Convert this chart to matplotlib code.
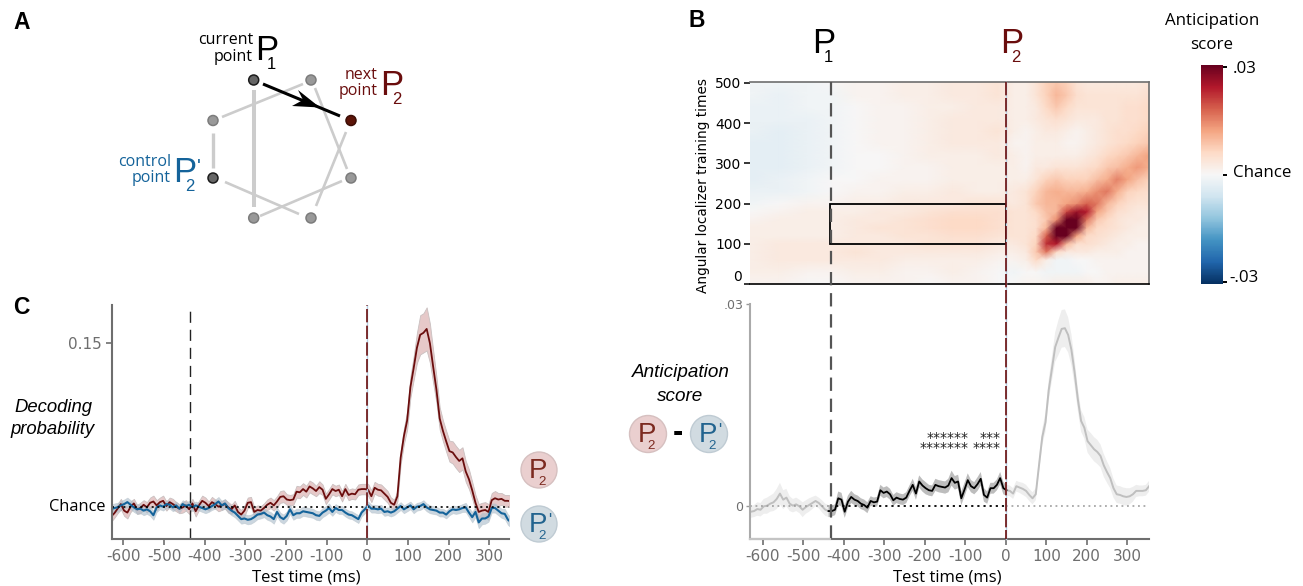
import numpy as np
import matplotlib
matplotlib.use('Agg')
import matplotlib.pyplot as plt
from matplotlib.patches import Circle, Rectangle, Polygon

W, H = 1303, 586

# decoding probability, in units of 1e-3 above chance, one value every 8 ms from -630 ms
next_point = [
    -1.5, -1.0, -0.3, 0.4, -0.6, -0.9, 0.0, 0.5, -0.4, -0.2,
    0.3, -0.1, 0.6, 0.8, 0.2, 0.7, 0.9, 0.1, 0.7, 0.4,
    0.0, -0.3, -0.1, 0.2, -0.4, 0.5, -0.7, 0.2, 0.9, 0.6,
    0.1, 0.7, 0.4, 0.0, 0.2, 0.4, -0.1, -0.4, 0.2, -0.8,
    -1.2, -0.6,
    0.6, 0.7, -0.8, -0.5, -0.6, -0.2, 0.3, 0.6, 0.2, 0.8,
    1.5, 1.6, 1.1, 1.0, 1.1, 2.3, 2.2, 2.7, 2.3, 3.1,
    2.8, 2.4, 3.0, 2.6, 1.2, 1.9, 2.7, 2.4, 2.6, 1.6,
    2.7, 1.8, 2.0, 1.9, 2.6, 2.7, 2.7,
    2.6, 1.6, 2.9, 2.6, 2.5, 2.0, 1.5, 0.6, 0.3, 1.6,
    7.5, 10.8, 13.2, 18.3, 21.2, 24.3, 26.3, 26.6, 27.2, 25.0,
    21.4, 17.9, 13.5, 11.6, 10.0, 8.5, 8.3, 7.6, 7.0, 7.4,
    5.4, 4.2, 2.5, 0.6, -0.8, -0.6, -0.5, -0.8, 1.0, 1.3,
    1.1, 1.2, 0.9, 0.9, 0.8,
]
control_point = [
    -0.4, -0.2, -0.1, 0.2, 0.4, 0.7, 0.3, -0.1, -0.4, -0.3,
    -0.6, -0.4, -0.7, -1.3, -0.1, 0.2, 0.0, 0.4, 0.3, -0.1,
    0.2, -0.3, 0.4, 0.1, 0.3, -0.1, 0.2, 0.0, -0.2, -0.4,
    -0.2, 0.1, 0.4, 0.8, 0.2, 0.5, -0.2, -0.6, -0.9, -1.4,
    -1.9, -1.8,
    -2.0, -1.9, -1.6, -1.2, -1.1, -0.9, -1.3, -1.5, -1.9, -0.8,
    -1.6, -1.9, -1.4, -0.4, -1.3, -1.0, -1.0, -0.7, -0.8, -0.9,
    -1.0, -1.3, -1.4, -0.9, -0.6, -0.2, -0.8, -0.2, -0.5, -0.5,
    -0.9, -1.2, -1.3, -1.6, -1.9, -0.9, -0.4,
    0.2, -0.3, -0.3, -0.4, -0.3, -0.8, -0.7, -0.9, -0.7, -0.3,
    0.1, -0.4, -0.1, 0.2, -0.4, 0.0, 0.1, 0.4, -0.1, -0.4,
    -0.5, -0.6, -0.9, -0.9, -1.2, -0.7, -0.4, -0.5, -0.4, -0.2,
    -0.1, -0.9, -1.6, -0.8, -2.4, -1.8, -1.8, -1.5, -0.2, -0.2,
    -0.6, -1.0, -1.1, -2.0, -2.4,
]
next_sem = [
    0.8, 0.7, 0.7, 0.8, 0.8, 0.9, 0.8, 0.7, 0.7, 0.8,
    0.7, 0.8, 0.8, 0.9, 0.8, 0.7, 0.8, 0.7, 0.7, 0.8,
    0.7, 0.7, 0.8, 0.8, 0.7, 0.7, 0.8, 0.7, 0.8, 0.8,
    0.7, 0.8, 0.7, 0.7, 0.7, 0.7, 0.8, 0.7, 0.7, 0.7,
    0.7, 0.8,
    0.8, 0.8, 0.7, 0.7, 0.7, 0.7, 0.8, 0.8, 0.8, 0.8,
    0.9, 0.9, 0.8, 0.8, 0.8, 0.9, 0.9, 0.9, 0.9, 0.9,
    0.9, 0.8, 0.9, 0.8, 0.8, 0.8, 0.8, 0.8, 0.8, 0.8,
    0.8, 0.8, 0.8, 0.8, 0.8, 0.8, 0.8,
    0.9, 0.9, 0.9, 0.9, 0.9, 0.9, 0.9, 0.8, 0.8, 0.8,
    1.0, 1.2, 1.4, 1.6, 1.8, 2.3, 3.0, 3.0, 3.3, 3.0,
    2.5, 2.0, 1.7, 1.6, 1.6, 1.6, 1.7, 1.7, 1.7, 1.7,
    1.6, 1.5, 1.3, 1.2, 1.2, 1.2, 1.2, 1.2, 1.1, 1.1,
    1.0, 0.9, 0.9, 0.9, 0.9,
]
control_sem = [
    0.7, 0.7, 0.7, 0.7, 0.7, 0.7, 0.7, 0.7, 0.7, 0.7,
    0.7, 0.7, 0.7, 0.7, 0.7, 0.6, 0.6, 0.6, 0.6, 0.6,
    0.6, 0.6, 0.6, 0.6, 0.6, 0.6, 0.6, 0.6, 0.6, 0.6,
    0.6, 0.6, 0.7, 0.7, 0.7, 0.7, 0.7, 0.7, 0.7, 0.7,
    0.7, 0.7,
    0.7, 0.7, 0.7, 0.7, 0.7, 0.7, 0.7, 0.7, 0.7, 0.7,
    0.7, 0.7, 0.7, 0.7, 0.7, 0.7, 0.7, 0.7, 0.7, 0.7,
    0.7, 0.7, 0.7, 0.7, 0.7, 0.7, 0.6, 0.6, 0.6, 0.6,
    0.6, 0.6, 0.6, 0.6, 0.6, 0.6, 0.6,
    0.6, 0.6, 0.6, 0.6, 0.6, 0.6, 0.6, 0.6, 0.6, 0.6,
    0.6, 0.6, 0.6, 0.6, 0.6, 0.6, 0.6, 0.6, 0.6, 0.6,
    0.6, 0.6, 0.6, 0.6, 0.6, 0.6, 0.6, 0.6, 0.6, 0.6,
    0.7, 0.7, 0.8, 0.8, 0.9, 0.9, 0.8, 0.8, 0.7, 0.7,
    0.7, 0.7, 0.8, 0.8, 0.8,
]

# anticipation score, same time base
anticipation = [
    -0.9, -0.8, -0.5, -0.6, -0.1, 0.0, 0.3, 0.5, 1.0, 1.8,
    0.9, 1.2, 0.3, 0.0, 0.2, -0.1, -0.6, -0.2, 0.1, 0.4,
    0.7, 0.4, -0.1, -0.6, -0.8,
    -0.8, -0.6, 1.1, 0.9, -0.9, 0.6, 1.3, 0.9, 0.7, 0.3,
    0.1, -0.3, 0.7, 0.5, 0.6, 2.3, 1.9,
    2.1, 1.7, 0.8, 1.2, 1.0, 0.9, 1.2, 2.2, 3.1, 1.8,
    3.6, 3.0, 2.6, 2.3, 2.2, 3.1, 2.9, 2.8, 2.7, 3.0,
    4.1, 3.4, 3.6, 1.1, 2.4, 3.8, 2.9, 2.6, 3.2, 4.0,
    1.6, 1.2, 2.6, 2.6, 3.1, 4.1, 2.6,
    2.3, 2.2, 1.8, 2.9, 2.7, 2.5, 2.2, 1.6, 1.1, 1.7,
    6.0, 10.2, 12.4, 17.2, 20.4, 23.6, 25.0, 26.3, 26.4, 25.4,
    23.2, 19.8, 15.8, 12.6, 11.6, 9.6, 9.0, 8.4, 8.0, 7.4,
    6.0, 5.0, 4.1, 2.6, 1.7, 1.6, 1.4, 1.3, 1.4, 1.7,
    2.2, 2.2, 2.2, 2.3, 2.9,
]
anticipation_sem = [
    0.9, 0.9, 1.0, 1.0, 1.1, 1.2, 1.2, 1.3, 1.5, 1.6,
    1.4, 1.3, 1.1, 1.0, 1.0, 1.0, 1.1, 1.0, 1.0, 0.9,
    0.8, 0.8, 0.9, 0.9, 0.9,
    0.8, 0.8, 1.0, 1.0, 0.9, 0.9, 0.9, 0.8, 0.8, 0.8,
    0.8, 0.8, 0.7, 0.7, 0.7, 0.8, 0.8,
    0.8, 0.8, 0.8, 0.8, 0.8, 0.8, 0.8, 0.8, 0.9, 0.9,
    0.9, 0.9, 0.9, 0.8, 0.8, 0.9, 0.9, 0.9, 0.9, 1.0,
    1.1, 1.0, 1.0, 1.0, 1.0, 1.0, 0.9, 0.9, 1.0, 1.0,
    1.0, 0.9, 0.8, 0.8, 0.8, 0.9, 0.9,
    0.8, 0.8, 0.8, 0.8, 0.8, 0.9, 0.9, 0.9, 0.9, 0.9,
    1.0, 1.2, 1.4, 1.6, 1.8, 2.2, 2.6, 2.8, 2.8, 2.6,
    2.3, 2.0, 1.7, 1.6, 1.6, 1.7, 1.8, 1.8, 1.8, 1.7,
    1.7, 1.6, 1.5, 1.4, 1.3, 1.3, 1.3, 1.3, 1.2, 1.1,
    0.9, 0.8, 0.8, 0.8, 0.8,
]

# temporal generalization, read on a coarse grid, in units of 1e-3
heat_time = [-632, -560, -490, -430, -370, -310, -250, -190, -130, -70, -20, 20, 50,
             75, 100, 125, 150, 175, 200, 225, 250, 275, 300, 325, 353]
heat_train = [0, 30, 60, 80, 100, 120, 140, 160, 180, 200, 230, 260, 290, 320, 350,
              380, 410, 440, 470, 502]
heat_score = [
    [1, 1, 0, 0, 1, 1, 1, 0, 1, 1, 0, 0, 1, 1, 1, 2, 2, 2, 2, 1, 1, 2, 2, 2, 2],
    [2, 2, 1, 1, 2, 2, 1, 1, 2, 1, 0, -1, 0, 0, -1, -1, -1, -1, 0, 0, 1, 1, 1, 1, 1],
    [2, 3, 3, 3, 3, 3, 2, 2, 2, 2, 1, 1, 2, 6, 2, -1, -1, 0, 0, 1, 1, 1, 1, 1, 1],
    [2, 3, 3, 3, 4, 3, 3, 3, 3, 3, 2, 2, 3, 8, 16, 6, 3, 3, 3, 2, 2, 2, 1, 1, 1],
    [2, 3, 3, 3, 3, 3, 3, 4, 4, 4, 3, 3, 4, 7, 22, 24, 10, 5, 5, 4, 3, 2, 2, 1, 1],
    [2, 2, 2, 2, 3, 3, 4, 4, 5, 5, 4, 4, 4, 6, 18, 34, 32, 12, 6, 5, 4, 3, 2, 2, 2],
    [2, 2, 2, 2, 3, 4, 4, 5, 6, 6, 5, 4, 4, 5, 10, 30, 40, 30, 10, 6, 5, 4, 3, 2, 2],
    [1, 2, 2, 2, 3, 3, 4, 5, 6, 6, 5, 4, 4, 5, 8, 14, 35, 38, 16, 8, 6, 4, 3, 3, 2],
    [0, 1, 2, 2, 2, 3, 3, 4, 5, 5, 5, 4, 4, 6, 9, 10, 20, 26, 24, 12, 8, 5, 4, 3, 3],
    [-1, 0, 1, 1, 2, 2, 3, 3, 3, 4, 4, 3, 4, 8, 10, 10, 12, 14, 18, 16, 10, 7, 5, 4, 4],
    [-2, -2, -1, 0, 1, 1, 2, 2, 3, 2, 2, 3, 4, 7, 10, 11, 10, 10, 11, 14, 16, 11, 7, 6, 5],
    [-3, -2, -1, 0, 0, 1, 1, 1, 2, 2, 2, 2, 2, 4, 7, 8, 7, 7, 7, 9, 11, 15, 12, 9, 7],
    [-3, -3, -2, -1, 0, 0, 1, 1, 2, 2, 2, 2, 1, 3, 3, 4, 4, 4, 5, 6, 8, 9, 11, 13, 11],
    [-3, -3, -2, -1, 0, 0, 1, 2, 2, 2, 3, 2, 1, 2, 2, 2, 2, 2, 3, 4, 6, 7, 8, 10, 12],
    [-3, -3, -2, -1, 0, 1, 1, 2, 3, 3, 3, 1, 1, 2, 2, 2, 1, 1, 2, 3, 4, 5, 6, 7, 8],
    [-2, -3, -2, -1, 0, 1, 1, 2, 3, 3, 4, 2, 1, 2, 3, 3, 2, 1, 2, 3, 4, 5, 5, 6, 7],
    [-2, -2, -2, -1, 0, 1, 1, 2, 3, 3, 3, 2, 2, 3, 4, 5, 4, 3, 3, 3, 4, 4, 5, 5, 6],
    [-2, -2, -1, -1, 0, 1, 1, 2, 2, 3, 3, 2, 2, 3, 6, 8, 6, 4, 4, 4, 4, 4, 5, 5, 6],
    [-1, -2, -1, -1, 1, 1, 2, 2, 3, 3, 4, 2, 2, 4, 7, 10, 8, 5, 4, 4, 4, 4, 4, 4, 5],
    [-1, -1, -1, 0, 1, 1, 2, 2, 3, 3, 4, 2, 2, 4, 7, 8, 7, 4, 3, 3, 3, 3, 3, 3, 4],
]

time_ticks = [-600, -500, -400, -300, -200, -100, 0, 100, 200, 300]
p1_time = -434
chance = 0.125

# the sequence diagram in panel A, pixel positions
graph_nodes = [(253.7, 80), (311, 80), (351, 120.5), (351, 178), (311, 218),
               (253.7, 218), (213, 178), (213, 120.5)]
graph_edges = [((222, 117), (303, 84), 1.9), ((213, 133), (213, 168), 2.4),
               ((225, 182), (299, 214), 1.9), ((254, 90), (254, 207), 2.9),
               ((260, 216), (342, 181), 1.9), ((315, 88), (347, 169), 1.9),
               ((346, 132), (316, 206), 1.9)]

RED = '#6a0d0d'
BLUE = '#14639a'
GRAY = '#6e6e6e'
SANS = 'Open Sans'
ARIAL = 'Liberation Sans'

time = -630 + 8 * np.arange(len(next_point))
next_point = np.array(next_point) / 1000
control_point = np.array(control_point) / 1000
next_sem = np.array(next_sem) / 1000
control_sem = np.array(control_sem) / 1000
anticipation = np.array(anticipation) / 1000
anticipation_sem = np.array(anticipation_sem) / 1000


def px_axes(left, top, right, bottom):
    return fig.add_axes([left / W, 1 - bottom / H, (right - left) / W, (bottom - top) / H])


def p_label(x, y, sub, color, size=25, prime=False):
    # x, y = left end and baseline of the P, pixels
    over.text(x, y, 'P', color=color, fontsize=size, family=ARIAL, ha='left', va='baseline')
    over.text(x + size * 0.46, y + size * 0.36, sub, color=color, fontsize=size * 0.48,
              family=ARIAL, ha='left', va='baseline')
    if prime:
        over.text(x + size * 0.95, y - size * 0.36, "'", color=color, fontsize=size * 0.6,
                  family=ARIAL, ha='left', va='baseline')


def style_time_axis(ax, label_x):
    ax.set_xticks(time_ticks)
    ax.set_xticklabels([str(t) for t in time_ticks])
    ax.tick_params(axis='x', length=4, width=1.2, color=GRAY, labelcolor=GRAY, labelsize=11, pad=3)
    ax.set_xlabel('Test time (ms)', family=SANS, fontsize=12, labelpad=4)
    ax.xaxis.label.set_x(label_x)
    ax.spines['top'].set_visible(False)
    ax.spines['right'].set_visible(False)
    ax.spines['bottom'].set_color(GRAY)
    ax.spines['bottom'].set_linewidth(1.5)


fig = plt.figure(figsize=(W / 100, H / 100), dpi=100)

# panel C
ax_c = px_axes(111.5, 305, 508.7, 539)
ax_c.set_xlim(-629, 347.7)
ax_c.set_ylim(0.12006, 0.15586)
ax_c.fill_between(time, chance + next_point - next_sem, chance + next_point + next_sem,
                  facecolor='#e6c9c9', edgecolor='#c9c0c0', lw=0.6)
ax_c.plot(time, chance + next_point, color=RED, lw=1.3)
ax_c.fill_between(time, chance + control_point - control_sem, chance + control_point + control_sem,
                  facecolor='#a9bccb', edgecolor='#b8c2c9', lw=0.5, alpha=0.6)
ax_c.plot(time, chance + control_point, color=BLUE, lw=1.5)
ax_c.axhline(chance, color='black', lw=1.2, ls=(0, (1.2, 2.2)))
ax_c.axvline(-436, color='#222222', lw=1.0, ls=(0, (8, 5)))
ax_c.axvline(0, color='#b9d2e6', lw=1.0)
ax_c.axvline(0, color=RED, lw=1.2, ls=(0, (8, 2)))
style_time_axis(ax_c, 0.491)
ax_c.set_yticks([0.15])
ax_c.set_yticklabels(['0.15'])
ax_c.tick_params(axis='y', length=4, width=1.2, color=GRAY, labelcolor=GRAY, labelsize=11, pad=3)
ax_c.spines['left'].set_color(GRAY)
ax_c.spines['left'].set_linewidth(1.5)

# panel B, heat map
ax_h = px_axes(750, 82, 1148.7, 284)
ax_h.set_xlim(-632, 353)
ax_h.set_ylim(0, 502)
mesh = ax_h.pcolormesh(heat_time, heat_train, np.array(heat_score) / 1000, cmap='RdBu_r',
                       vmin=-0.03, vmax=0.03, shading='gouraud', rasterized=True)
ax_h.add_patch(Rectangle((p1_time, 100), -p1_time, 100, fill=False, ec='black', lw=1.3))
ax_h.set_xticks([])
ax_h.set_yticks([0, 100, 200, 300, 400, 500])
ax_h.tick_params(axis='y', length=4, width=1.1, labelsize=10, pad=2)
ax_h.get_yticklabels()[0].set_va('bottom')
ax_h.set_ylabel('Angular localizer training times', fontsize=9.8)
ax_h.yaxis.set_label_coords(-0.1, 0.49)
ax_h.spines['left'].set_visible(False)
ax_h.spines['top'].set_color(GRAY)
ax_h.spines['right'].set_color(GRAY)
ax_h.spines['top'].set_linewidth(1.2)
ax_h.spines['right'].set_linewidth(1.2)
ax_h.spines['bottom'].set_linewidth(1.2)

# colour bar
cax = px_axes(1201, 65, 1222.7, 284)
cbar = fig.colorbar(mesh, cax=cax)
cbar.set_ticks([-0.0295, 0, 0.0295])
cbar.set_ticklabels(['', '', ''])
cbar.ax.tick_params(length=3, width=1.4, color='black')
cbar.outline.set_visible(False)

# panel B, anticipation score
ax_b = px_axes(750, 304, 1148.7, 539.3)
ax_b.set_xlim(-632, 353)
ax_b.set_ylim(-0.005, 0.03)
sig_wide = (time >= -438) & (time <= 2)
ax_b.fill_between(time, anticipation - anticipation_sem, anticipation + anticipation_sem,
                  facecolor='#eeeeee', edgecolor='none')
ax_b.fill_between(time[sig_wide], (anticipation - anticipation_sem)[sig_wide],
                  (anticipation + anticipation_sem)[sig_wide], facecolor='#bdbdbd', edgecolor='none')
ax_b.plot(time, anticipation, color='#bfbfbf', lw=1.4)
ax_b.plot(time[sig_wide], anticipation[sig_wide], color='black', lw=1.3)
ax_b.plot([-632, p1_time], [0, 0], color='#999999', lw=1.1, ls=(0, (1.2, 2.4)))
ax_b.plot([p1_time, 0], [0, 0], color='black', lw=1.3, ls=(0, (1.2, 2.2)))
ax_b.plot([0, 353], [0, 0], color='#999999', lw=1.1, ls=(0, (1.2, 2.4)))
style_time_axis(ax_b, 0.494)
ax_b.set_yticks([0, 0.03])
ax_b.set_yticklabels(['0', '.03'])
ax_b.tick_params(axis='y', length=3, width=1.0, color='#999999', labelcolor=GRAY, labelsize=9, pad=2)
ax_b.spines['left'].set_color('#aaaaaa')
ax_b.spines['left'].set_linewidth(1.5)

# overlay in pixel coordinates for the diagram, labels and long dashed lines
over = fig.add_axes([0, 0, 1, 1], zorder=10)
over.set_xlim(0, W)
over.set_ylim(H, 0)
over.axis('off')
over.patch.set_alpha(0)

x_p1 = 830.7
x_p2 = 1005.7
over.plot([x_p1, x_p1], [82, 539], color='#555555', lw=1.6, ls=(0, (6, 3.5)))
over.plot([x_p2, x_p2], [82, 539], color='#b9d2e6', lw=1.0)
over.plot([x_p2, x_p2], [82, 539], color=RED, lw=1.2, ls=(0, (8, 1.6)))
over.plot([750, x_p1 - 1], [539.3, 539.3], color='#c4c4c4', lw=1.5)

for label, x, y in [('A', 13, 29), ('B', 688, 27), ('C', 13, 314)]:
    over.text(x, y, label, fontsize=16.5, fontweight='bold', family=ARIAL, va='baseline')

# panel A diagram
for start, end, lw in graph_edges:
    over.plot([start[0], end[0]], [start[1], end[1]], color='#cccccc', lw=lw, solid_capstyle='butt')
for i, (x, y) in enumerate(graph_nodes):
    if i == 2:
        face, edge = '#5c1408', '#3c0d05'
    elif i in (0, 6):
        face, edge = '#666666', '#1c1c1c'
    else:
        face, edge = '#999999', '#7c7c7c'
    over.add_patch(Circle((x, y), 5, fc=face, ec=edge, lw=1.1))
over.plot([263, 340], [84, 116], color='black', lw=2.2, solid_capstyle='butt')
over.add_patch(Polygon([(320, 107.5), (298, 90), (303, 100), (292, 106)], fc='black', ec='none'))

over.text(253, 44, 'current', ha='right', va='baseline', fontsize=11.5, family=SANS)
over.text(253, 61, 'point', ha='right', va='baseline', fontsize=11.5, family=SANS)
p_label(255.5, 60, '1', 'black')
over.text(378, 79, 'next', ha='right', va='baseline', fontsize=11.5, family=SANS, color=RED)
over.text(378, 95, 'point', ha='right', va='baseline', fontsize=11.5, family=SANS, color=RED)
p_label(380.5, 95, '2', RED)
over.text(171, 166, 'control', ha='right', va='baseline', fontsize=11.5, family=SANS, color=BLUE)
over.text(171, 182, 'point', ha='right', va='baseline', fontsize=11.5, family=SANS, color=BLUE)
p_label(173.5, 182, '2', BLUE, prime=True)

# panel B headers
p_label(812.5, 53, '1', 'black')
p_label(1000, 53, '2', RED)
over.text(1212, 25, 'Anticipation', ha='center', va='baseline', fontsize=12.2, family=SANS)
over.text(1212, 49, 'score', ha='center', va='baseline', fontsize=12.2, family=SANS)
over.text(1233, 73, '.03', va='baseline', fontsize=12.2, family=SANS)
over.text(1233, 177, 'Chance', va='baseline', fontsize=12.2, family=SANS)
over.text(1229, 282, '-.03', va='baseline', fontsize=12.2, family=SANS)

# italic labels
over.text(53, 412, 'Decoding', ha='center', va='baseline', fontsize=13.3, family=ARIAL, style='italic')
over.text(53, 434, 'probability', ha='center', va='baseline', fontsize=13.3, family=ARIAL, style='italic')
over.text(105, 511, 'Chance', ha='right', va='baseline', fontsize=11.8, family=SANS)
over.text(680.5, 377, 'Anticipation', ha='center', va='baseline', fontsize=13.6, family=ARIAL, style='italic')
over.text(680.5, 401, 'score', ha='center', va='baseline', fontsize=13.6, family=ARIAL, style='italic')

# legend badges
for cx, cy, r, face, edge, color, prime, sub in [
        (539, 470, 18, '#eacfcf', '#d6c0c0', '#7c2a20', False, '2'),
        (539, 524, 18, '#d1dbe1', '#bfcbd3', '#23648f', True, '2'),
        (648, 434, 18.5, '#eacfcf', '#d6c0c0', '#7c2a20', False, '2'),
        (709, 434, 18.5, '#d1dbe1', '#bfcbd3', '#23648f', True, '2')]:
    over.add_patch(Circle((cx, cy), r, fc=face, ec=edge, lw=1))
    p_label(cx - 10, cy + 8, sub, color, size=20, prime=prime)
over.text(678, 441, '-', ha='center', va='baseline', fontsize=22, fontweight='bold', family=ARIAL)

# significance stars
for x, y, stars in [(969, 442, '******'), (1001, 442, '***'), (969, 452, '*******'), (1001, 452, '****')]:
    over.text(x, y, stars, ha='right', va='baseline', fontsize=10, family='DejaVu Sans', color='#222222')

fig.savefig('out.png', dpi=100)
